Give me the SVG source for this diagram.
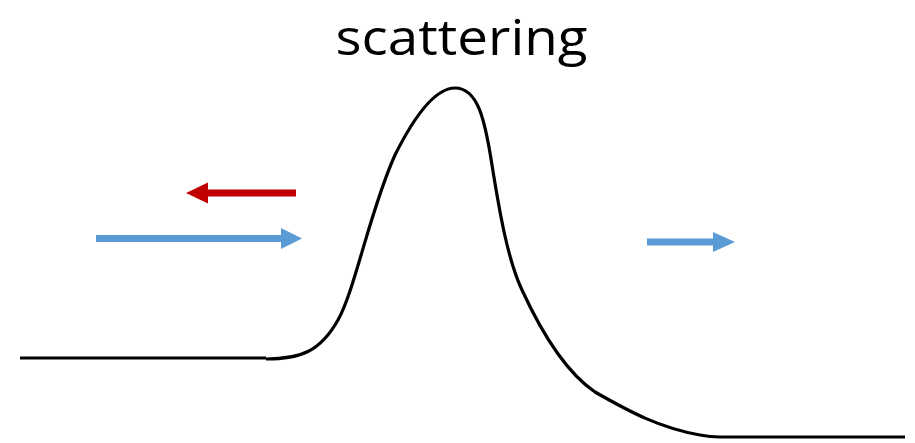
<svg xmlns="http://www.w3.org/2000/svg" width="915" height="443" viewBox="0 0 915 443">
<style>
.title{font-family:"Open Sans","Noto Sans","Liberation Sans",sans-serif;font-size:50px;fill:#000}
.curve{fill:none;stroke:#000;stroke-width:3.2;stroke-linejoin:round}
.red{fill:#C00000}
.blue{fill:#5B9BD5}
</style>
<rect width="915" height="443" fill="#fff"/>
<g id="title"><text class="title" x="461.5" y="55" text-anchor="middle" textLength="252" lengthAdjust="spacingAndGlyphs">scattering</text></g>
<g id="barrier">
<path class="curve" d="M20,358 L266,358 M266,359 C300,359 320,352 338,320 C355,290 370,210 395,155 C415,115 435,88 455,88 C478,88 485,120 492,165 C500,215 508,260 522,290 C545,340 570,375 595,392 C630,412 660,428 700,435 C710,437 715,437 720,437 L905,437"/>
</g>
<g id="connectors">
<g id="reflected"><rect class="red" x="206" y="189.5" width="90" height="7"/><polygon class="red" points="186,193 208,182.5 208,203.5"/></g>
<g id="incident"><rect class="blue" x="96" y="235" width="187" height="7"/><polygon class="blue" points="302,238.5 281,228 281,249"/></g>
<g id="transmitted"><rect class="blue" x="647" y="238.5" width="68" height="7"/><polygon class="blue" points="735,242 713,232 713,252"/></g>
</g>
</svg>
